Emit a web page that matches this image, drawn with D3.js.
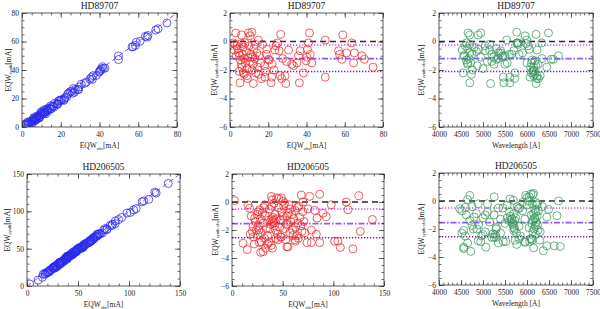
<!DOCTYPE html>
<html><head><meta charset="utf-8">
<script src="https://cdn.jsdelivr.net/npm/d3@7"></script>
<style>
body{margin:0;background:#fff}
svg{display:block}
text{font-family:"Liberation Serif","Times New Roman",serif;fill:#222}
</style>
</head><body>
<svg id="c" width="600" height="309"></svg>
<script>
// ---------------- DATA ----------------
const starNames = ["HD89707", "HD206505"];

// HD89707: observed EQW [mA], synth - obs [mA], wavelength [A]
const obs89707 = [3.0,1.7,2.6,6.1,9.6,11.4,10.5,14.8,5.2,12.2,7.0,7.5,18.3,21.8,21.5,26.2,27.0,28.8,29.2,26.5,
  24.8,25.7,30.6,19.2,20.0,32.3,33.2,35.0,35.8,36.7,36.3,38.4,39.8,40.5,41.0,41.6,42.0,42.8,40.2,49.8,
  49.8,56.8,57.3,58.5,59.0,61.0,63.7,64.6,65.0,69.0,70.2,74.8,3.5,4.0,4.5,5.0,5.5,6.0,6.5,7.0,
  7.5,8.0,8.5,9.0,9.5,10.0,10.5,11.0,11.5,12.0,12.5,13.0,13.5,14.0,14.5,15.0,15.5,16.0,17.0,18.0,
  19.0,20.5,22.0,23.0,24.0,4.8,6.2,8.8,2.2,3.2,7.8,16.5,13.2,9.2,5.8,11.8,18.5,23.5,27.5,29.5];
const diff89707 = [0.6,-0.1,-0.2,0.45,0.6,0.65,0.4,0.1,-2.9,-2.95,-2.2,-2.3,-2.5,-2.5,-2.9,-2.4,-2.6,-2.4,-2.95,0.5,
  -0.1,-0.65,-0.6,-0.55,-1.25,-1.6,-1.7,-1.5,-1.0,-0.65,-2.9,-2.2,-1.35,-0.55,-0.1,0.6,-0.9,-1.5,-1.1,0.1,
  -2.5,-0.65,-0.9,-1.25,0.45,-0.8,-0.1,-1.5,-0.8,-1.0,-1.25,-1.8,-0.3,-0.5,-0.8,-1.0,-1.3,-1.6,-0.9,-0.4,
  -1.2,-1.5,-0.7,-1.9,-1.1,-0.3,-1.4,-0.9,-2.0,-1.6,-0.5,-1.2,-2.2,-0.8,-1.8,-2.3,-1.0,-1.5,-0.2,-1.7,
  -0.9,-1.3,-1.6,-2.0,-0.3,-2.1,-1.8,-2.4,-0.6,-1.0,-0.1,-2.6,-0.2,-2.6,-0.15,-1.1,-2.1,-0.6,-1.2,-1.4];
const wave89707 = [4662,4620,4700,4700,4950,5766,5956,5537,4700,5172,4548,4738,5460,5610,5610,6150,6225,6300,6207,6207,
  6335,5400,5150,4900,5300,5500,4870,6100,5450,5700,5475,5725,6180,6050,5780,6488,5820,6000,5250,5994,
  6070,5050,5600,6550,4890,5900,5800,4650,5350,6717,6600,6450,4600,4650,4700,4580,4620,4650,4750,4800,
  4680,4720,4850,5000,4950,5050,5100,5200,4760,5250,5300,5350,6100,5400,6150,6180,5500,5550,5800,6200,
  5650,6120,6250,6160,6020,6130,6080,6230,4530,4560,5770,5720,5150,6260,5980,5450,6140,6230,6340,5200];

// HD206505
const obs206505 = [2.6,15.8,17.4,10.9,15.1,28.3,30.6,29.0,25.7,20.7,22.4,25.7,27.3,32.2,38.8,39.8,48.7,50.3,38.8,39.8,
  54.3,55.3,48.7,61.8,68.4,70.0,76.6,86.5,81.6,83.9,78.3,83.2,78.3,86.5,89.8,93.0,98.0,101.3,104.6,106.9,
  112.8,114.5,119.4,125.3,126.6,138.5,20.0,21.0,22.0,23.0,24.0,25.0,26.0,27.0,28.0,29.0,30.0,31.0,32.0,33.0,
  34.0,35.0,36.0,37.0,38.0,39.0,40.0,40.5,41.0,41.5,42.0,42.5,43.0,44.0,45.0,46.0,47.0,48.0,49.0,50.0,
  51.0,52.0,53.0,54.0,55.0,56.0,57.0,58.0,59.0,60.0,61.0,62.0,63.0,64.0,65.0,66.0,67.0,68.0,69.0,70.0,
  46.0,44.0,52.0,35.0,33.0,45.5,43.5,37.5,18.0,19.0,65.5,60.5,71.0,72.0,50.5,47.5,55.5,62.5,39.5,41.5,
  53.5,31.5,26.5,36.5,75.0,74.0,64.5,57.5];
const diff206505 = [0.1,-0.2,-0.45,-2.95,-3.4,-3.6,-3.55,-2.85,-2.35,-1.75,-1.15,-0.7,-0.55,-0.2,0.4,0.15,0.3,0.05,-3.1,-3.3,
  -3.2,-3.2,-2.5,-2.7,0.5,0.0,0.4,0.55,-0.6,-1.15,-2.0,-2.3,-2.9,-2.9,-0.8,-1.05,-0.2,-2.8,-2.8,-3.25,
  0.0,-0.55,-3.35,0.45,-2.1,-1.25,-2.1,-2.5,-3.0,-1.4,-2.0,-0.9,-1.7,-2.9,-1.2,-2.2,-0.8,-1.5,-2.6,-1.0,
  -1.9,-3.0,-1.3,-0.5,-1.6,-1.2,-1.4,-1.1,-1.5,-1.3,-1.7,-0.9,-2.0,-1.2,-2.3,-0.4,-1.8,-2.5,-0.7,-1.3,
  -0.3,-1.9,-2.7,-1.0,-1.6,-0.2,-2.2,-1.4,-0.9,-2.0,-1.2,-0.6,-1.8,-2.4,-1.5,-0.3,-1.1,-1.7,-2.1,-0.7,
  0.25,0.3,-0.1,-2.4,-3.3,-2.7,-2.6,-1.9,-2.3,-1.0,-2.6,-2.4,-1.4,-2.2,-1.0,-1.3,-0.8,-2.8,-0.3,-0.1,
  -1.6,-0.4,-2.0,-2.9,-0.5,-2.9,-0.4,-0.5];
const wave206505 = [4650,4890,4600,5955,4563,4722,6370,4890,5230,4750,4800,4520,4470,5100,4700,5613,5255,5690,5766,5065,
  6450,6620,4966,6100,6085,6717,5970,6150,6490,6450,5300,5400,5460,5520,6200,6680,6240,5730,6290,6755,
  6030,5800,6150,6130,5700,6180,4560,4600,4650,4700,4780,4850,4900,4950,5000,5050,5100,5150,5200,5250,
  5300,5350,5400,5450,5500,5550,5600,5620,5640,5660,5680,5700,5720,5740,5760,5780,5820,5850,5900,5950,
  6000,6050,6080,6100,6110,6120,6130,6140,6150,6160,6170,6180,6190,6200,6210,6220,6230,6240,6250,6260,
  6000,6050,6200,5000,4560,5820,5250,5700,4520,4620,5300,5280,5720,6300,5050,5650,5600,6120,5550,5900,
  5690,4750,4860,5950,5830,6060,6350,5350];

// reference levels: zero, mean+sigma, mean, mean-sigma
const levels89707 = [0, -0.25, -1.2, -2.1];
const levels206505 = [0, -0.5, -1.55, -2.55];

// tick labels
const eqwTicks89707 = [0, 20, 40, 60, 80];
const eqwTicks206505 = [0, 50, 100, 150];
const diffTicks = [-6, -4, -2, 0, 2];
const waveTicks = [4000, 4500, 5000, 5500, 6000, 6500, 7000, 7500];

// ---------------- DRAW ----------------
const svg = d3.select("#c");
const FS = 7.5;

function rows(obs, diff, wave) {
  return obs.map((o, i) => ({obs: o, diff: diff[i], wave: wave[i], synth: o + diff[i]}));
}
const sets = [rows(obs89707, diff89707, wave89707), rows(obs206505, diff206505, wave206505)];
const levels = [levels89707, levels206505];
const eqwTicks = [eqwTicks89707, eqwTicks206505];

function minorVals(domain, step) {
  return d3.range(domain[0], domain[1] + step / 2, step);
}

function frameAxes(g, x, y, xt, yt, xminor, yminor, w, h) {
  const fmt = d3.format("d");
  g.append("g").attr("transform", `translate(0,${h})`)
    .call(d3.axisBottom(x).tickValues(xt).tickSize(-5).tickPadding(5).tickFormat(fmt));
  g.append("g").call(d3.axisTop(x).tickValues(xt).tickSize(-5).tickFormat(""));
  g.append("g").call(d3.axisLeft(y).tickValues(yt).tickSize(-5).tickPadding(3).tickFormat(fmt));
  g.append("g").attr("transform", `translate(${w},0)`)
    .call(d3.axisRight(y).tickValues(yt).tickSize(-5).tickFormat(""));
  g.append("g").attr("transform", `translate(0,${h})`)
    .call(d3.axisBottom(x).tickValues(xminor).tickSize(-2.5).tickFormat(""));
  g.append("g").call(d3.axisTop(x).tickValues(xminor).tickSize(-2.5).tickFormat(""));
  g.append("g").call(d3.axisLeft(y).tickValues(yminor).tickSize(-2.5).tickFormat(""));
  g.append("g").attr("transform", `translate(${w},0)`)
    .call(d3.axisRight(y).tickValues(yminor).tickSize(-2.5).tickFormat(""));
  g.selectAll(".domain").remove();
  g.selectAll(".tick line").attr("stroke", "#333").attr("stroke-width", 0.7);
  g.selectAll(".tick text").attr("font-size", FS).attr("font-family", "Liberation Serif").attr("fill", "#222");
  g.append("rect").attr("width", w).attr("height", h).attr("fill", "none")
    .attr("stroke", "#333").attr("stroke-width", 0.8);
}

function label(g, x, y, main, sub, tail, rotate) {
  const t = g.append("text").attr("font-size", FS).attr("text-anchor", "middle")
    .attr("transform", `translate(${x},${y})` + (rotate ? " rotate(-90)" : ""));
  t.append("tspan").text(main);
  t.append("tspan").attr("font-size", 4.5).attr("dy", 1.5).text(sub);
  t.append("tspan").attr("dy", -1.5).text(tail);
}

const frames = [
  [[22, 177, 13, 127], [230, 383, 13, 127], [439, 593, 13, 127]],
  [[27, 180, 174, 286], [232, 384, 174, 286], [439, 593, 173, 285]]
];
const yLabelX = [[8, 214, 421], [7, 215, 421]];
const colors = {blue: "#2a2af0", red: "#ee2a2a", green: "#3a9a5e"};

for (let r = 0; r < 2; r++) {
  const data = sets[r];
  const maxE = eqwTicks[r][eqwTicks[r].length - 1];
  const eStep = r === 0 ? 5 : 10;
  for (let c = 0; c < 3; c++) {
    const [x0, x1, y0, y1] = frames[r][c];
    const w = x1 - x0, h = y1 - y0;
    const g = svg.append("g").attr("transform", `translate(${x0},${y0})`);
    let x, y, xt, yt, xm, ym, xv, yv, col;
    if (c === 0) {
      x = d3.scaleLinear().domain([0, maxE]).range([0, w]);
      y = d3.scaleLinear().domain([0, maxE]).range([h, 0]);
      xt = eqwTicks[r]; yt = eqwTicks[r];
      xm = minorVals([0, maxE], eStep); ym = xm;
      xv = d => d.obs; yv = d => d.synth; col = colors.blue;
    } else {
      x = c === 1 ? d3.scaleLinear().domain([0, maxE]).range([0, w])
                  : d3.scaleLinear().domain([4000, 7500]).range([0, w]);
      y = d3.scaleLinear().domain([-6, 2]).range([h, 0]);
      xt = c === 1 ? eqwTicks[r] : waveTicks; yt = diffTicks;
      xm = c === 1 ? minorVals([0, maxE], eStep) : minorVals([4000, 7500], 100);
      ym = minorVals([-6, 2], 0.5);
      xv = c === 1 ? d => d.obs : d => d.wave; yv = d => d.diff;
      col = c === 1 ? colors.red : colors.green;
    }
    const clipId = `clip${r}${c}`;
    g.append("clipPath").attr("id", clipId).append("rect").attr("width", w).attr("height", h);
    const plot = g.append("g").attr("clip-path", `url(#${clipId})`);

    if (c === 0) {
      plot.append("line").attr("x1", x(0)).attr("y1", y(0)).attr("x2", x(maxE)).attr("y2", y(maxE))
        .attr("stroke", "#a040d8").attr("stroke-width", 0.9).attr("stroke-dasharray", "5,3");
    } else {
      const L = levels[r];
      const styles = [
        {v: L[0], s: "#2a2a2a", w: 1.7, d: "6,4"},
        {v: L[1], s: "#cc55ff", w: 1.4, d: "1.3,1.7"},
        {v: L[2], s: "#9055ff", w: 1.7, d: "6,2,1.5,2"},
        {v: L[3], s: "#7a1fb0", w: 1.4, d: "1.3,1.7"}
      ];
      plot.selectAll("line.lv").data(styles).join("line").attr("class", "lv")
        .attr("x1", 0).attr("x2", w).attr("y1", d => y(d.v)).attr("y2", d => y(d.v))
        .attr("stroke", d => d.s).attr("stroke-width", d => d.w).attr("stroke-dasharray", d => d.d);
    }
    plot.selectAll("circle").data(data).join("circle")
      .attr("cx", d => x(xv(d))).attr("cy", d => y(yv(d))).attr("r", 4)
      .attr("fill", "none").attr("stroke", col).attr("stroke-width", 0.75);

    frameAxes(g, x, y, xt, yt, xm, ym, w, h);

    g.append("text").attr("x", w / 2).attr("y", -4).attr("text-anchor", "middle")
      .attr("font-size", 9.5).text(starNames[r]);
    if (c === 2) {
      g.append("text").attr("x", w / 2).attr("y", h + 21).attr("text-anchor", "middle")
        .attr("font-size", FS).text("Wavelength [A]");
    } else {
      label(g, w / 2, h + 21, "EQW", "obs", "[mA]", false);
    }
    const ly = h / 2;
    if (c === 0) label(g, yLabelX[r][c] - x0 + 2.5, ly, "EQW", "synth", "[mA]", true);
    else label(g, yLabelX[r][c] - x0 + 2.5, ly, "EQW", "synth-obs", "[mA]", true);
  }
}
</script>
</body></html>
